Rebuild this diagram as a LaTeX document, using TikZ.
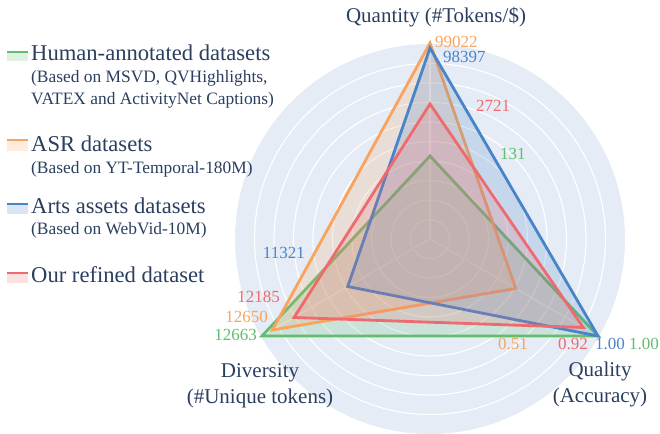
\documentclass[tikz,border=0pt]{standalone}
\usepackage{fontspec}
\setmainfont{Liberation Serif}
\definecolor{txt}{HTML}{2A3F5F}
\definecolor{bgc}{HTML}{E5ECF6}
\definecolor{cgreen}{HTML}{60BE6E}
\definecolor{corange}{HTML}{F9A45E}
\definecolor{cblue}{HTML}{4A84C8}
\definecolor{cred}{HTML}{EE6A6E}
\tikzset{
  trace/.style={draw=#1, fill=#1, fill opacity=0.2, draw opacity=1, line width=2.8pt, line join=miter},
  grid/.style={draw=white, line width=1.1pt},
  legmain/.style={anchor=base west, inner sep=0pt, text=txt, font=\fontsize{22.6}{26}\selectfont},
  legsub/.style={anchor=base west, inner sep=0pt, text=txt, font=\fontsize{17.4}{20}\selectfont},
  axlab/.style={anchor=base, inner sep=0pt, text=txt, font=\fontsize{21}{25}\selectfont},
  val/.style={inner sep=0pt, text=#1, font=\fontsize{17}{20}\selectfont},
  patchfill/.style={fill=#1!20},
  patchline/.style={draw=#1, line width=2.6pt}
}
\begin{document}
\begin{tikzpicture}[x=1pt,y=-1pt]
\useasboundingbox (0,0) rectangle (660,433);
\begin{scope}
\clip (0,0) rectangle (660,433);
\coordinate (O) at (430,239);
\begin{scope}[shift={(430,239)}]
  \fill[bgc] (0,0) circle (195);
  \foreach \k in {1,...,9} \draw[grid] (0,0) circle ({19.5*\k});
  \foreach \a in {-90,30,150} \draw[grid] (0,0) -- (\a:195);
  % Human-annotated
  \filldraw[trace=cgreen] (-90:83) -- (30:194) -- (150:194) -- cycle;
  % ASR
  \filldraw[trace=corange] (-90:196) -- (30:99) -- (150:182) -- cycle;
  % Arts assets
  \filldraw[trace=cblue] (-90:191) -- (30:194) -- (150:95) -- cycle;
  % Ours
  \filldraw[trace=cred] (-90:135) -- (30:177) -- (150:157) -- cycle;
\end{scope}
\end{scope}
% legend
\fill[patchfill=cgreen] (7,52) rectangle (28,61);
\draw[patchline=cgreen] (7,52) -- (28,52);
\node[legmain] (l1) at (31,61) {Human-annotated datasets};
\node[legsub] (l1a) at (31,83) {(Based on MSVD, QVHighlights,};
\node[legsub] (l1b) at (31,104) {VATEX and ActivityNet Captions)};
\fill[patchfill=corange] (7,140) rectangle (28,151);
\draw[patchline=corange] (7,140) -- (28,140);
\node[legmain] (l2) at (31,151) {ASR datasets};
\node[legsub] (l2a) at (31,173) {(Based on YT-Temporal-180M)};
\fill[patchfill=cblue] (7,204) rectangle (28,214);
\draw[patchline=cblue] (7,204) -- (28,204);
\node[legmain] (l3) at (31,213) {Arts assets datasets};
\node[legsub] (l3a) at (31,234) {(Based on WebVid-10M)};
\fill[patchfill=cred] (7,273) rectangle (28,283);
\draw[patchline=cred] (7,273) -- (28,273);
\node[legmain] (l4) at (31,282) {Our refined dataset};
% axis labels
\node[axlab] (aq) at (436,23) {Quantity (\#Tokens/\$)};
\node[axlab] (ad1) at (260,377) {Diversity};
\node[axlab] (ad2) at (260,403) {(\#Unique tokens)};
\node[axlab] (aa1) at (600,376) {Quality};
\node[axlab] (aa2) at (600,402) {(Accuracy)};
% values
\node[val=corange, anchor=base west] (v1) at (435,48) {99022};
\node[val=cblue, anchor=base west] (v2) at (443,63) {98397};
\node[val=cred, anchor=base west] (v3) at (476,111) {2721};
\node[val=cgreen, anchor=base west] (v4) at (500,159) {131};
\node[val=cblue, anchor=base east] (v5) at (305,258) {11321};
\node[val=cred, anchor=base east] (v6) at (280,302) {12185};
\node[val=corange, anchor=base east] (v7) at (268,322) {12650};
\node[val=cgreen, anchor=base east] (v8) at (257,340) {12663};
\node[val=corange, anchor=base west] (v9) at (498,349) {0.51};
\node[val=cred, anchor=base west] (v10) at (558,349) {0.92};
\node[val=cblue, anchor=base west] (v11) at (595,349) {1.00};
\node[val=cgreen, anchor=base west] (v12) at (629,349) {1.00};
\end{tikzpicture}
\end{document}
